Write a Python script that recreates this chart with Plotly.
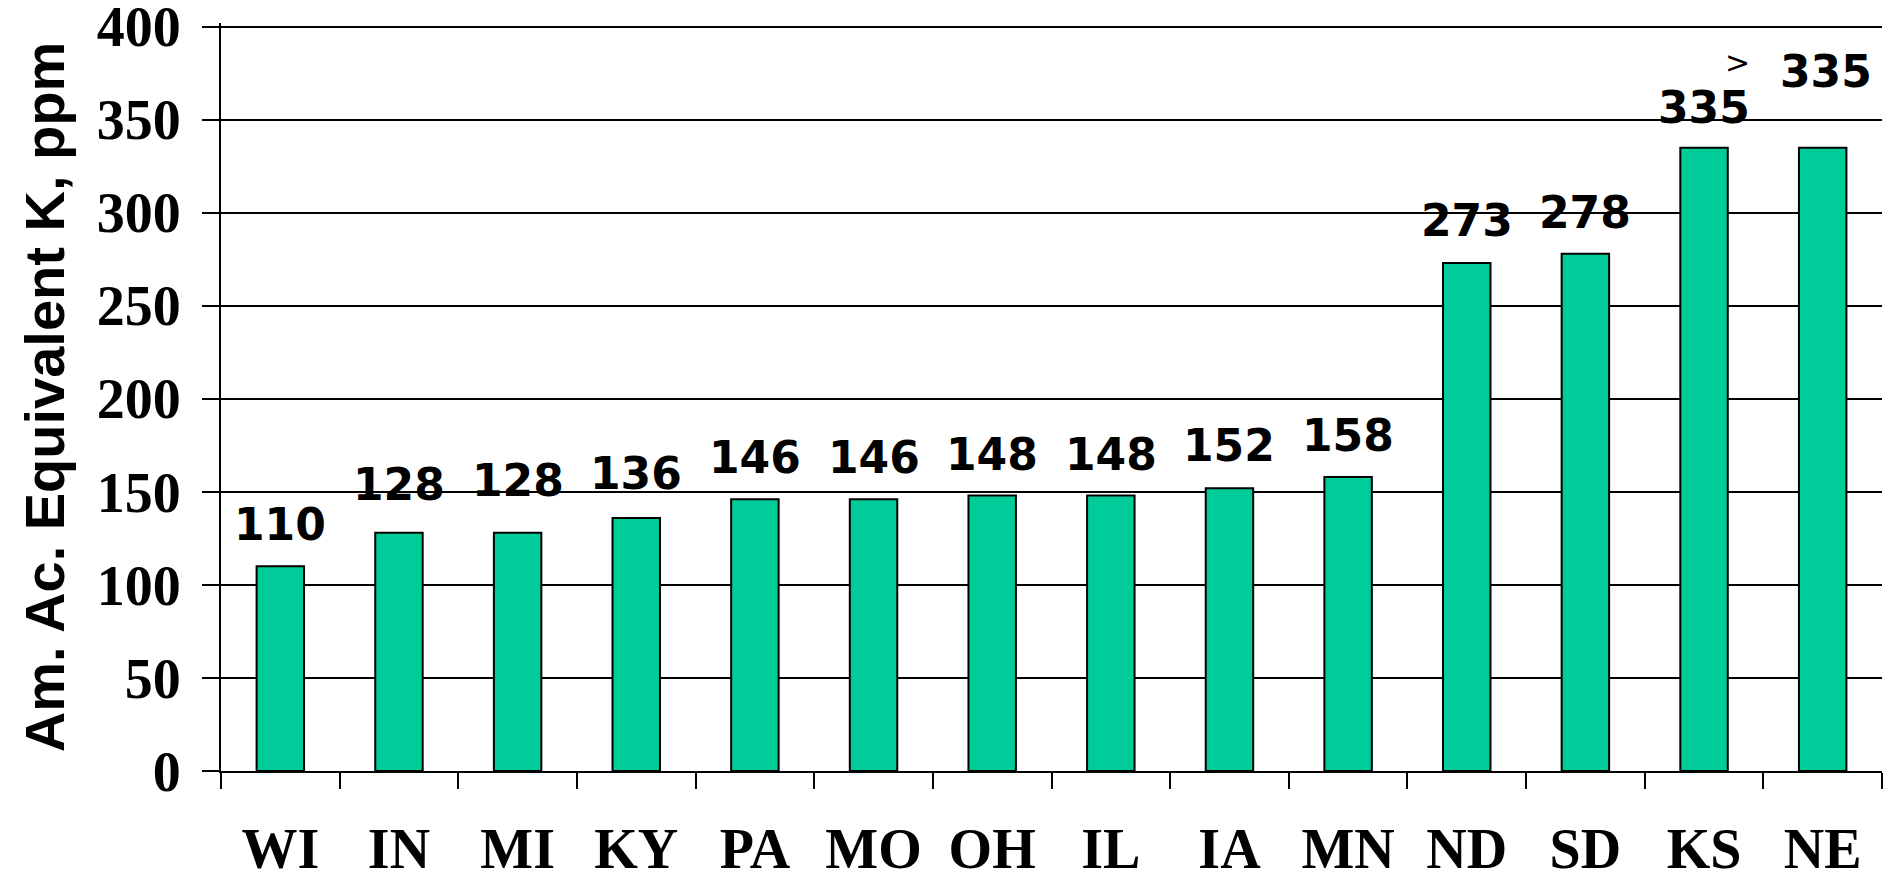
import plotly.graph_objects as go

# ---- data ----
states = ["WI", "IN", "MI", "KY", "PA", "MO", "OH", "IL", "IA", "MN", "ND", "SD", "KS", "NE"]
k_ppm = [110, 128, 128, 136, 146, 146, 148, 148, 152, 158, 273, 278, 335, 335]
value_labels = ["110", "128", "128", "136", "146", "146", "148", "148", "152", "158", "273", "278", "335", "335"]
y_ticks = [0, 50, 100, 150, 200, 250, 300, 350, 400]
y_title = "Am. Ac. Equivalent K, ppm"

# ---- label placement (pixels above bar top) ----
label_shift = [40, 46, 50, 42, 40, 40, 39, 39, 41, 40, 41, 39, 38, 74]
label_xshift = [0] * 13 + [3]

BAR_COLOR = "#00CC99"
Y_MAX = 402

fig = go.Figure()
fig.add_trace(go.Bar(
    x=states, y=k_ppm, width=0.4,
    marker=dict(color=BAR_COLOR, line=dict(color="black", width=2)),
    hoverinfo="x+y",
))

annotations = []
for s, v, t, dy, dx in zip(states, k_ppm, value_labels, label_shift, label_xshift):
    annotations.append(dict(
        x=s, y=v, xref="x", yref="y", text=t, showarrow=False,
        xanchor="center", yanchor="middle", yshift=dy + 2, xshift=dx,
        font=dict(family="DejaVu Sans", size=44, color="black", weight="bold"),
    ))
# the ">" marker beside the NE label
annotations.append(dict(
    x=states[-1], y=k_ppm[-1], xref="x", yref="y", text=">", showarrow=False,
    xanchor="center", yanchor="middle", yshift=85, xshift=-85,
    font=dict(family="DejaVu Sans", size=30, color="black"),
))

fig.update_layout(
    width=1884, height=870,
    margin=dict(l=221, r=2, t=23, b=99, autoexpand=False),
    paper_bgcolor="white", plot_bgcolor="white",
    showlegend=False,
    annotations=annotations,
)
fig.update_yaxes(
    range=[0, Y_MAX], tickvals=y_ticks, ticktext=[str(v) for v in y_ticks],
    automargin=False, ticklabeloverflow="allow",
    showgrid=True, gridcolor="black", gridwidth=2,
    zeroline=False,
    showline=True, linecolor="black", linewidth=2,
    ticks="outside", ticklen=17, tickwidth=2, tickcolor="black",
    ticklabelstandoff=10,
    tickfont=dict(family="Liberation Serif", size=56, color="black", weight="bold"),
    title=dict(text=y_title, standoff=14,
               font=dict(family="Liberation Sans", size=56, color="black", weight="bold")),
)
fig.update_xaxes(
    type="category", tickson="boundaries",
    automargin=False, ticklabeloverflow="allow",
    showgrid=False, zeroline=False,
    showline=True, linecolor="black", linewidth=2,
    ticks="outside", ticklen=16, tickwidth=2, tickcolor="black",
    ticklabelstandoff=28,
    tickfont=dict(family="Liberation Serif", size=56, color="black", weight="bold"),
)

fig.write_html(
    "out.html",
    config={"displayModeBar": False},
    post_script="document.body.style.margin='0';document.body.style.padding='0';document.body.style.overflow='hidden';",
)
